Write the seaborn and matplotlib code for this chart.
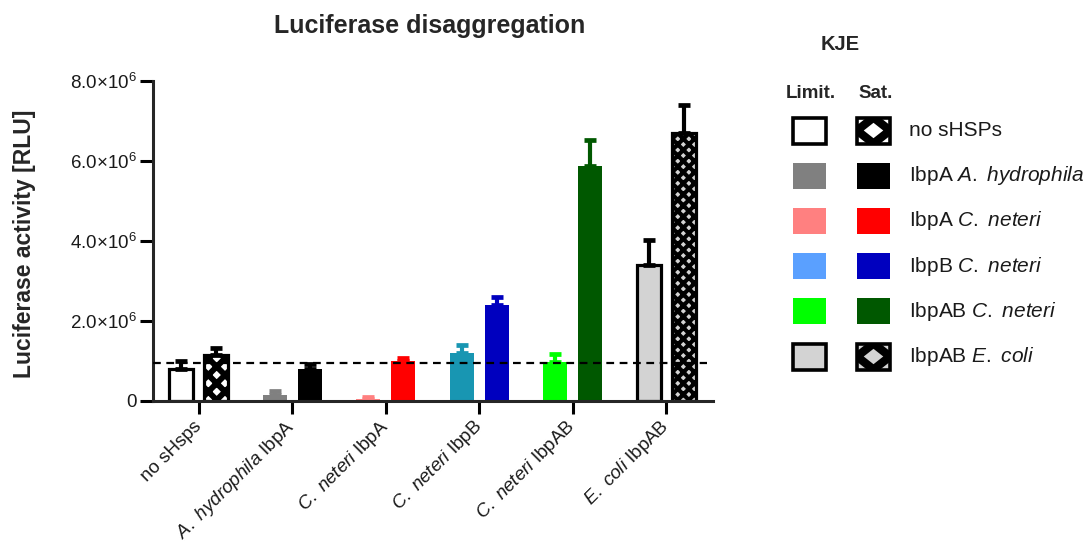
import matplotlib
matplotlib.use("Agg")
import matplotlib.pyplot as plt
import numpy as np
import pandas as pd
import seaborn as sns
from matplotlib.patches import Rectangle, Polygon

# ---- data -------------------------------------------------------------
groups = ["no sHsps", "A. hydrophila IbpA", "C. neteri IbpA",
          "C. neteri IbpB", "C. neteri IbpAB", "E. coli IbpAB"]
group_labels = ["no sHsps",
                r"$\mathit{A.\ hydrophila}$ IbpA",
                r"$\mathit{C.\ neteri}$ IbpA",
                r"$\mathit{C.\ neteri}$ IbpB",
                r"$\mathit{C.\ neteri}$ IbpAB",
                r"$\mathit{E.\ coli}$ IbpAB"]
conditions = ["Limit.", "Sat."]

limit_vals = [0.79e6, 0.15e6, 0.05e6, 1.18e6, 0.97e6, 3.40e6]
limit_err = [0.19e6, 0.09e6, 0.05e6, 0.21e6, 0.20e6, 0.62e6]
sat_vals = [1.13e6, 0.80e6, 1.00e6, 2.40e6, 5.87e6, 6.69e6]
sat_err = [0.19e6, 0.12e6, 0.07e6, 0.20e6, 0.65e6, 0.70e6]

baseline = 0.95e6

yticks = [0, 2e6, 4e6, 6e6, 8e6]
ytick_labels = ["0", r"2.0×10$^{6}$", r"4.0×10$^{6}$",
                r"6.0×10$^{6}$", r"8.0×10$^{6}$"]

limit_colors = ["#ffffff", "#808080", "#ff8080", "#1896b2", "#00ff00", "#d3d3d3"]
sat_colors = ["#ffffff", "#000000", "#ff0000", "#0000bf", "#005800", "#d3d3d3"]
limit_outlined = [True, False, False, False, False, True]
sat_hatch = ["xx", None, None, None, None, "xxx"]
sat_hatch_lw = [4.2, None, None, None, None, 3.0]

legend_labels = ["no sHSPs",
                 r"IbpA $\mathit{A.\ hydrophila}$",
                 r"IbpA $\mathit{C.\ neteri}$",
                 r"IbpB $\mathit{C.\ neteri}$",
                 r"IbpAB $\mathit{C.\ neteri}$",
                 r"IbpAB $\mathit{E.\ coli}$"]
legend_limit_colors = ["#ffffff", "#808080", "#ff8080", "#5aa0ff", "#00ff00", "#d3d3d3"]
legend_sat_colors = ["#ffffff", "#000000", "#ff0000", "#0000bf", "#005800", "#d3d3d3"]

# ---- style ------------------------------------------------------------
sns.set_style("ticks")
plt.rcParams["font.family"] = ["Liberation Sans", "DejaVu Sans"]
plt.rcParams.update({
    "mathtext.fontset": "custom",
    "mathtext.rm": "Liberation Sans",
    "mathtext.it": "Liberation Sans:italic",
    "mathtext.bf": "Liberation Sans:bold",
    "hatch.linewidth": 3.0,
    "axes.linewidth": 2.2,
})

df = pd.DataFrame({
    "group": groups * 2,
    "kje": ["Limit."] * len(groups) + ["Sat."] * len(groups),
    "activity": limit_vals + sat_vals,
})

fig = plt.figure(figsize=(10.9, 5.46), dpi=100)
ax = fig.add_axes([153 / 1090, 1 - 400.7 / 546, (713 - 153) / 1090, 320 / 546])

sns.barplot(data=df, x="group", y="activity", hue="kje", order=groups,
            hue_order=conditions, errorbar=None, width=0.75, gap=0.32,
            legend=False, ax=ax)

lim_bars, sat_bars = ax.containers[0], ax.containers[1]

for i, p in enumerate(lim_bars):
    p.set_facecolor(limit_colors[i])
    if limit_outlined[i]:
        p.set_edgecolor("black")
        p.set_linewidth(2.3)
    else:
        p.set_linewidth(0)
    ecol = "black" if limit_outlined[i] else limit_colors[i]
    cx = p.get_x() + p.get_width() / 2
    ax.errorbar(cx, limit_vals[i], yerr=[[0], [limit_err[i]]], color=ecol,
                elinewidth=3.0, capsize=4.2, capthick=3.4, zorder=2)

for i, p in enumerate(sat_bars):
    p.set_facecolor(sat_colors[i])
    if sat_hatch[i]:
        p.set_edgecolor("black")
        p.set_linewidth(2.3)
        p.set_hatch(sat_hatch[i])
        if hasattr(p, "set_hatch_linewidth"):
            p.set_hatch_linewidth(sat_hatch_lw[i])
    else:
        p.set_linewidth(0)
    ecol = "black" if sat_hatch[i] else sat_colors[i]
    cx = p.get_x() + p.get_width() / 2
    ax.errorbar(cx, sat_vals[i], yerr=[[0], [sat_err[i]]], color=ecol,
                elinewidth=3.0, capsize=4.2, capthick=3.4, zorder=2)

ax.axhline(baseline, xmin=0, xmax=0.99, color="black", lw=1.6,
           ls=(0, (3.5, 2.5)), zorder=3)

ax.set_xlim(-0.49, 5.5)
ax.set_ylim(0, 8e6)
ax.set_yticks(yticks)
ax.set_yticklabels(ytick_labels)
ax.set_xticks(range(len(groups)))
ax.set_xticklabels(group_labels, rotation=45, ha="right",
                   rotation_mode="anchor", va="center")
ax.set_xlabel("")
ax.set_ylabel("")
sns.despine(ax=ax)
ax.tick_params(axis="both", length=9.5, width=2.2, color="black",
               labelcolor="#1a1a1a")
ax.tick_params(axis="y", labelsize=13.5, pad=2)
ax.tick_params(axis="x", labelsize=13.5, pad=7)

fig.text(430 / 1090, 1 - 32.5 / 546, "Luciferase disaggregation",
         ha="center", va="baseline", fontsize=18, fontweight="bold")
fig.text(25 / 1090, 1 - 244 / 546, "Luciferase activity [RLU]",
         ha="center", va="center", rotation=90, fontsize=16.5,
         fontweight="bold")

# ---- key on the right, drawn in pixel space ---------------------------
ov = fig.add_axes([0, 0, 1, 1])
ov.set_xlim(0, 1090)
ov.set_ylim(546, 0)
ov.axis("off")

ov.text(840, 45, "KJE", ha="center", va="center", fontsize=14.5,
        fontweight="bold")
ov.text(811, 93, "Limit.", ha="center", va="center", fontsize=13.5,
        fontweight="bold")
ov.text(876, 93, "Sat.", ha="center", va="center", fontsize=13.5,
        fontweight="bold")

sw_w, sw_h = 33, 26
col_x = [809.5, 873.5]
row_y = [130.5 + 45.2 * k for k in range(len(legend_labels))]


def swatch(cx, cy, face, outlined=False, diamond=False):
    x0, y0 = cx - sw_w / 2, cy - sw_h / 2
    if diamond:
        box = Rectangle((x0, y0), sw_w, sw_h, facecolor=face,
                        edgecolor="none")
        ov.add_patch(box)
        lattice = Polygon([(cx, y0), (x0 + sw_w, cy), (cx, y0 + sw_h),
                           (x0, cy)], closed=True, fill=False,
                          edgecolor="black", lw=6.0)
        ov.add_patch(lattice)
        lattice.set_clip_path(box)
        ov.add_patch(Rectangle((x0, y0), sw_w, sw_h, fill=False,
                               edgecolor="black", lw=2.6))
    elif outlined:
        ov.add_patch(Rectangle((x0, y0), sw_w, sw_h, facecolor=face,
                               edgecolor="black", lw=2.6))
    else:
        ov.add_patch(Rectangle((x0, y0), sw_w, sw_h, facecolor=face,
                               edgecolor="none"))


for k, lab in enumerate(legend_labels):
    special = k in (0, len(legend_labels) - 1)
    swatch(col_x[0], row_y[k], legend_limit_colors[k], outlined=special)
    swatch(col_x[1], row_y[k], legend_sat_colors[k], diamond=special)
    ov.text(909, row_y[k], lab, ha="left", va="center", fontsize=15,
            color="#1a1a1a")

fig.savefig("out.png", dpi=100)
